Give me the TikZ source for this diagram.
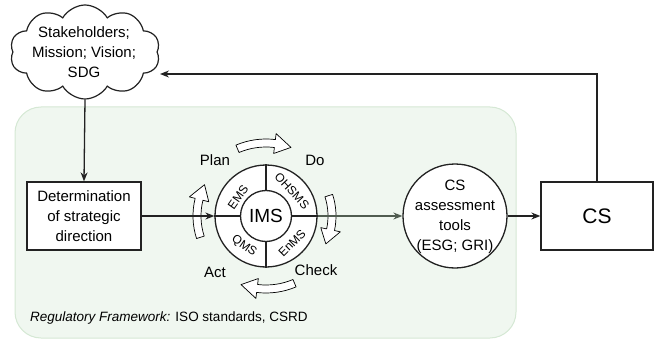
\documentclass[tikz,border=0pt]{standalone}
\usepackage{fontspec}
\setmainfont{Liberation Sans}
\usetikzlibrary{shapes.symbols,arrows.meta,calc}
\definecolor{gfill}{HTML}{F0F7F0}
\definecolor{gdraw}{HTML}{D5E8D4}
\definecolor{darkg}{HTML}{505C50}
\definecolor{lineg}{HTML}{222222}
\newcommand\cwarrow[3]{%
  \draw[hollowarr] ({#1}:{#3+4}) arc[start angle={#1}, end angle={#2+13}, radius={#3+4}]
    -- ({#2+13}:{#3+10}) -- ({#2}:{#3}) -- ({#2+13}:{#3-10}) -- ({#2+13}:{#3-4})
    arc[start angle={#2+13}, end angle={#1}, radius={#3-4}] -- cycle;}
\tikzset{
  txt/.style={font=\fontsize{15}{20}\selectfont, align=center, inner sep=0pt},
  boxnode/.style={draw=lineg, line width=1.3pt, fill=white, minimum width=114pt, minimum height=68pt, txt},
  conn/.style={draw=lineg, line width=1.3pt, -{Stealth[length=9pt,width=7pt]}},
  hollowarr/.style={draw=black, line width=0.7pt, fill=white, line join=round},
  seg/.style={font=\fontsize{12}{14}\selectfont, inner sep=0pt},
}
\begin{document}
\begin{tikzpicture}[x=1pt, y=-1pt]
\path[use as bounding box] (0,0) rectangle (655,339);
% green region
\draw[draw=gdraw, fill=gfill, line width=1pt, rounded corners=26pt] (15,107) rectangle (516,338);
% cloud
\node[cloud, draw=lineg, line width=1.2pt, fill=white, cloud puffs=10, cloud puff arc=120, aspect=1.5,
      minimum width=150pt, minimum height=94pt, inner sep=0pt] (cloud) at (85,52) {};
\node[txt] (cloudtxt) at (84,52) {Stakeholders;\\Mission; Vision;\\SDG};
\coordinate (cloudin) at (160,74);
% determination box
\node[boxnode] (det) at (84,216) {Determination\\of strategic\\direction};
% IMS
\node[draw=lineg, line width=1.3pt, fill=white, circle, minimum size=102pt, inner sep=0pt] (ims) at (266,216) {};
\node[draw=lineg, line width=1.3pt, circle, minimum size=51pt, inner sep=0pt,
      font=\fontsize{19}{22}\selectfont] (imsin) at (266,216) {IMS};
\draw[lineg, line width=1.3pt] (ims.north) -- (imsin.north);
\draw[lineg, line width=1.3pt] (ims.south) -- (imsin.south);
\draw[lineg, line width=1.3pt] (ims.west) -- (imsin.west);
\draw[lineg, line width=1.3pt] (ims.east) -- (imsin.east);
\node[seg, rotate=55] (ems) at (238,197) {EMS};
\node[seg, rotate=-47] (ohsms) at (292,191) {OHSMS};
\node[seg, rotate=-35] (qms) at (244,246) {QMS};
\node[seg, rotate=45] (enms) at (292,243) {EnMS};
% PDCA labels
\node[txt] (plan) at (215,160) {Plan};
\node[txt] (do) at (315,160) {Do};
\node[txt] (act) at (215,272) {Act};
\node[txt] (check) at (316,270) {Check};
% hollow curved arrows
\begin{scope}[shift={(266,216)}, y=1pt]
  \cwarrow{113}{70}{73}
  \cwarrow{18}{-25}{66}
  \cwarrow{-67}{-110}{73}
  \cwarrow{198}{153}{69}
\end{scope}
% CS tools
\node[draw=lineg, line width=1.3pt, fill=white, circle, minimum size=104pt, inner sep=0pt] (tools) at (455,216) {};
\node[txt] (toolstxt) at (455,217) {CS\\assessment\\tools\\(ESG; GRI)};
% CS box
\node[boxnode, minimum width=112pt, font=\fontsize{21}{24}\selectfont] (cs) at (597,216) {CS};
% connectors
\draw[conn] (cloud.south) -- (det.north);
\draw[conn] (det.east) -- (ims.west);
\draw[conn, draw=darkg, -{Stealth[length=9pt,width=7pt]}] (ims.east) -- (tools.west);
\draw[conn] (tools.east) -- (cs.west);
\draw[conn] (cs.north) |- (cloudin);
% regulatory note
\node[anchor=west, font=\fontsize{13.5}{15}\selectfont, inner sep=0pt] (reg) at (30,318) {\textit{Regulatory Framework:} ISO standards, CSRD};
\end{tikzpicture}
\end{document}
